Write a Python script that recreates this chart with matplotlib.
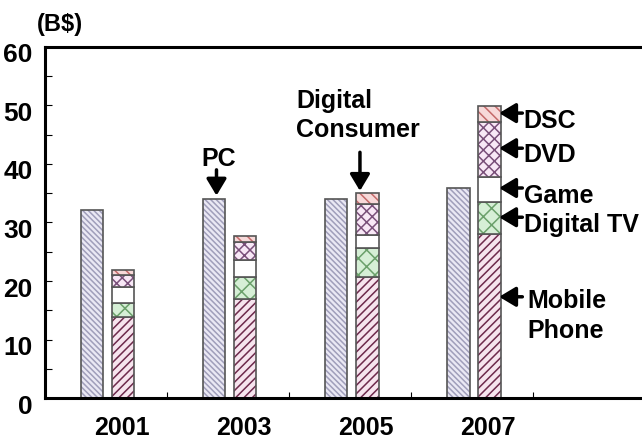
import numpy as np
import matplotlib.pyplot as plt
from matplotlib import font_manager
import matplotlib.transforms as mtransforms

years = ['2001', '2003', '2005', '2007']
pc = [32.1, 34.0, 34.0, 35.9]
# stacked digital consumer segments (B$)
mobile = [13.8, 16.9, 20.7, 28.0]
digital_tv = [2.4, 3.8, 4.9, 5.5]
game = [2.8, 2.9, 2.3, 4.3]
dvd = [2.0, 3.0, 5.3, 9.4]
dsc = [0.9, 1.1, 1.8, 2.7]

segments = [
    ('Mobile Phone', mobile, '#f6e4ee', '#6e2a4c', '////'),
    ('Digital TV', digital_tv, '#d6efd6', '#6aa06a', 'xx'),
    ('Game', game, 'white', 'white', ''),
    ('DVD', dvd, '#f8e8f6', '#7a507a', 'xxx'),
    ('DSC', dsc, '#f7d9d9', '#c46a6a', '\\\\\\'),
]

names = [f.name for f in font_manager.fontManager.ttflist]
fam = 'Liberation Sans Narrow' if 'Liberation Sans Narrow' in names else 'Liberation Sans'
plt.rcParams['font.family'] = [fam, 'DejaVu Sans']
plt.rcParams['font.weight'] = 'bold'
plt.rcParams['hatch.linewidth'] = 1.1

fig = plt.figure(figsize=(6.42, 4.48), dpi=100)
ax = fig.add_axes([0.070, 0.1116, 0.93, 0.7835])

x = np.arange(len(years))
w = 0.185
x_pc = x - 0.115
x_st = x + 0.14
edge = '#555555'

# PC bars
ax.bar(x_pc, pc, w, color='#eae8f4', edgecolor='#a09eba', hatch='\\\\\\\\\\\\', linewidth=0)
ax.bar(x_pc, pc, w, fill=False, edgecolor=edge, linewidth=1.2)

bottom = np.zeros(len(years))
for name, vals, face, hc, hatch in segments:
    ax.bar(x_st, vals, w, bottom=bottom, color=face, edgecolor=hc, hatch=hatch, linewidth=0)
    ax.bar(x_st, vals, w, bottom=bottom, fill=False, edgecolor=edge, linewidth=1.2)
    bottom = bottom + np.array(vals)

ax.set_xlim(-0.5, 4.39)
ax.set_ylim(0, 60)
ax.spines['right'].set_visible(False)
for s in ['left', 'bottom', 'top']:
    ax.spines[s].set_linewidth(2.2)

ax.set_yticks(np.arange(0, 61, 10))
ax.set_yticks(np.arange(5, 60, 10), minor=True)
ax.tick_params(axis='y', which='both', direction='in', length=5, width=0.8,
               labelsize=19, pad=9)
offset = mtransforms.ScaledTranslation(0, -6 / 100, fig.dpi_scale_trans)
for lab in ax.get_yticklabels():
    lab.set_transform(lab.get_transform() + offset)
    lab.set_fontweight('bold')

ax.set_xticks(x + 0.13)
ax.set_xticklabels(years, fontsize=18, fontweight='bold')
ax.set_xticks(np.arange(0.5, 4, 1), minor=True)
ax.tick_params(axis='x', which='major', length=0, pad=13)
ax.tick_params(axis='x', which='minor', direction='in', length=4, width=0.8)

fig.text(0.057, 0.945, '(B$)', fontsize=17, fontweight='bold', ha='left', va='center')

arrow = dict(arrowstyle='-|>,head_length=0.5,head_width=0.3', color='black', lw=2.5,
             mutation_scale=20, shrinkA=0, shrinkB=0)
tfs = 18
ax.text(0.92, 40.8, 'PC', ha='center', va='center', fontsize=tfs, fontweight='bold')
ax.annotate('', xy=(0.905, 34.6), xytext=(0.905, 39.0), arrowprops=arrow)

ax.text(1.56, 48.3, 'Digital\nConsumer', ha='left', va='center', fontsize=tfs,
        fontweight='bold', linespacing=1.25)
ax.annotate('', xy=(2.08, 35.4), xytext=(2.08, 42.0), arrowprops=arrow)

labels_right = [('DSC', 48.7, 47.3), ('DVD', 42.7, 41.6), ('Game', 35.9, 34.6),
                ('Digital TV', 30.9, 29.6), ('Mobile\nPhone', 17.3, 14.0)]
for txt, ya, yt in labels_right:
    ax.annotate('', xy=(3.22, ya), xytext=(3.41, ya), arrowprops=arrow)
    xt = 3.45 if '\n' in txt else 3.42
    ax.text(xt, yt, txt, ha='left', va='center', fontsize=tfs, fontweight='bold',
            linespacing=1.35)

fig.savefig('out.png', dpi=100)
